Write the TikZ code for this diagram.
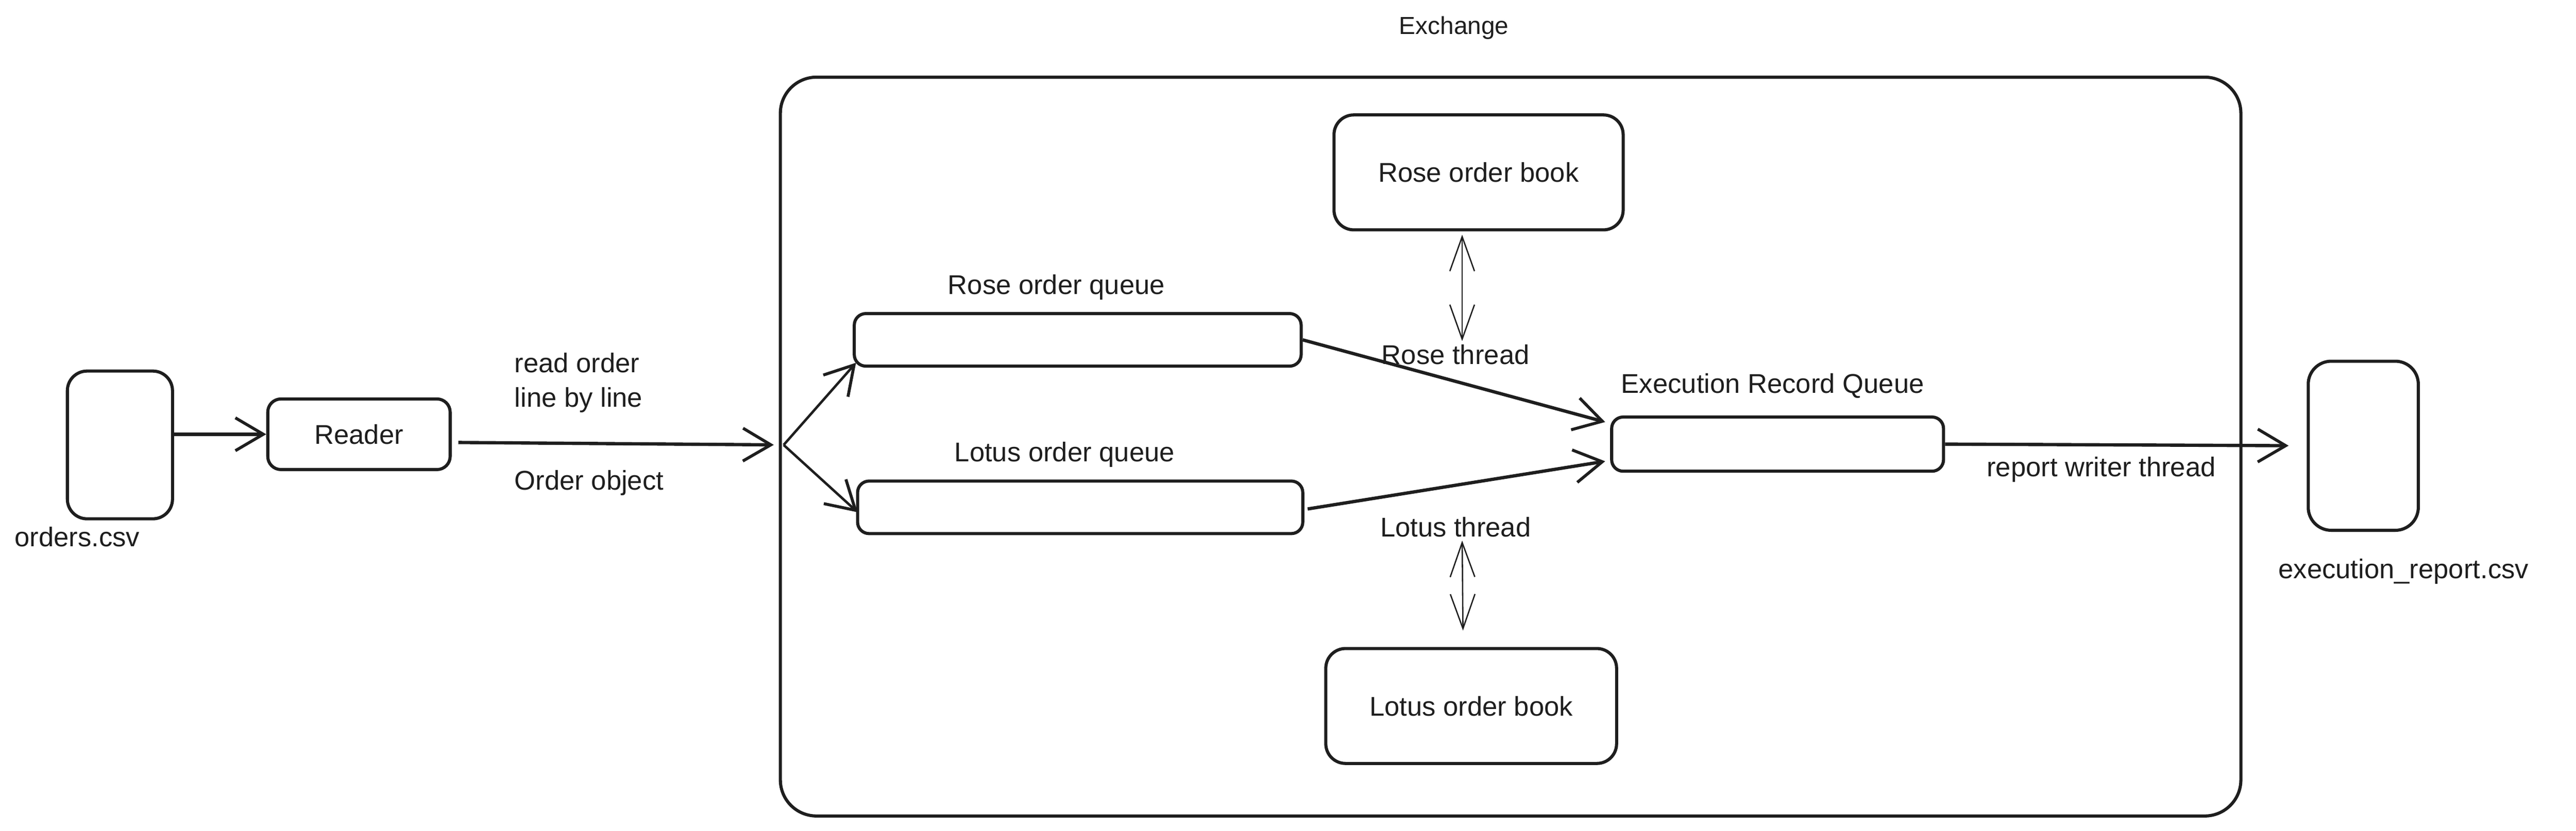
\documentclass[tikz,border=0pt]{standalone}
\usepackage{fontspec}
\setmainfont{Liberation Sans}
\usetikzlibrary{arrows.meta,calc}
\definecolor{inkc}{HTML}{1E1E1E}
\begin{document}
\begin{tikzpicture}[x=1pt,y=-1pt,
  boxst/.style={draw=inkc, line width=1.9pt, fill=white, inner sep=0pt},
  lbl/.style={font=\fontsize{16.5}{21}\selectfont, text=inkc, inner sep=1pt},
  flow/.style={draw=inkc, line width=2pt, -{Straight Barb[length=17pt,width=20pt,line width=1.8pt]}},
  twoway/.style={draw=inkc, line width=0.8pt, {Straight Barb[length=21pt,width=15pt]}-{Straight Barb[length=21pt,width=15pt]}}
]
\useasboundingbox (0,0) rectangle (1568,506);
% containers and boxes
\node[boxst, rounded corners=22pt, minimum width=889pt, minimum height=450pt] (exchange) at (919.5,272) {};
\node[boxst, rounded corners=12pt, minimum width=64pt, minimum height=90pt] (ordersfile) at (73,271) {};
\node[boxst, rounded corners=8pt, minimum width=111pt, minimum height=43pt, lbl] (reader) at (218.5,264.5) {Reader};
\node[boxst, rounded corners=7pt, minimum width=272pt, minimum height=32pt] (rosequeue) at (656,207) {};
\node[boxst, rounded corners=7pt, minimum width=271pt, minimum height=32pt] (lotusqueue) at (657.5,309) {};
\node[boxst, rounded corners=12pt, minimum width=176pt, minimum height=70pt, lbl] (rosebook) at (900,105) {Rose order book};
\node[boxst, rounded corners=12pt, minimum width=177pt, minimum height=70pt, lbl] (lotusbook) at (895.5,430) {Lotus order book};
\node[boxst, rounded corners=7pt, minimum width=202pt, minimum height=33pt] (erq) at (1082,270.5) {};
\node[boxst, rounded corners=14pt, minimum width=67pt, minimum height=103pt] (reportfile) at (1438.5,271.5) {};
% labels
\node[lbl] (ordersname) at (47,327) {orders.csv};
\node[lbl, align=left, anchor=west] (readlbl) at (312,233) {read order\\line by line};
\node[lbl, anchor=west] (objlbl) at (312,294) {Order object};
\node[lbl, font=\fontsize{15}{18}\selectfont] (exlbl) at (885,17) {Exchange};
\node[lbl] (rqlbl) at (643,175) {Rose order queue};
\node[lbl] (lqlbl) at (648,277) {Lotus order queue};
\node[lbl] (rthread) at (886,216) {Rose thread};
\node[lbl] (lthread) at (886,321) {Lotus thread};
\node[lbl] (erqlbl) at (1079,235) {Execution Record Queue};
\node[lbl] (rwlbl) at (1279,286) {report writer thread};
\node[lbl] (reportname) at (1463,348) {execution\_report.csv};
% connectors
\coordinate (split) at (477,271);
\draw[flow] (ordersfile.east |- reader.west) -- (reader.west);
\draw[flow, shorten >=6pt] ($(reader.east)+(4,5)$) -- (split);
\draw[flow, line width=1.5pt] (split) -- ($(rosequeue.south west)+(2,-3)$);
\draw[flow, line width=1.5pt] (split) -- ($(lotusqueue.west)+(1,3)$);
\draw[flow] (rosequeue.east) -- ($(erq.north west)+(-3,4)$);
\draw[flow] ($(lotusqueue.east)+(2,1)$) -- ($(erq.south west)+(-3,-7)$);
\draw[flow, shorten >=11pt] (erq.east) -- (reportfile.west);
\draw[twoway] ($(rosebook.south)+(-10,2)$) -- ($(rthread.north)+(4,-1)$);
\draw[twoway] ($(lthread.south)+(4,1)$) -- ($(lotusbook.north)+(-5,-10)$);
\end{tikzpicture}
\end{document}
